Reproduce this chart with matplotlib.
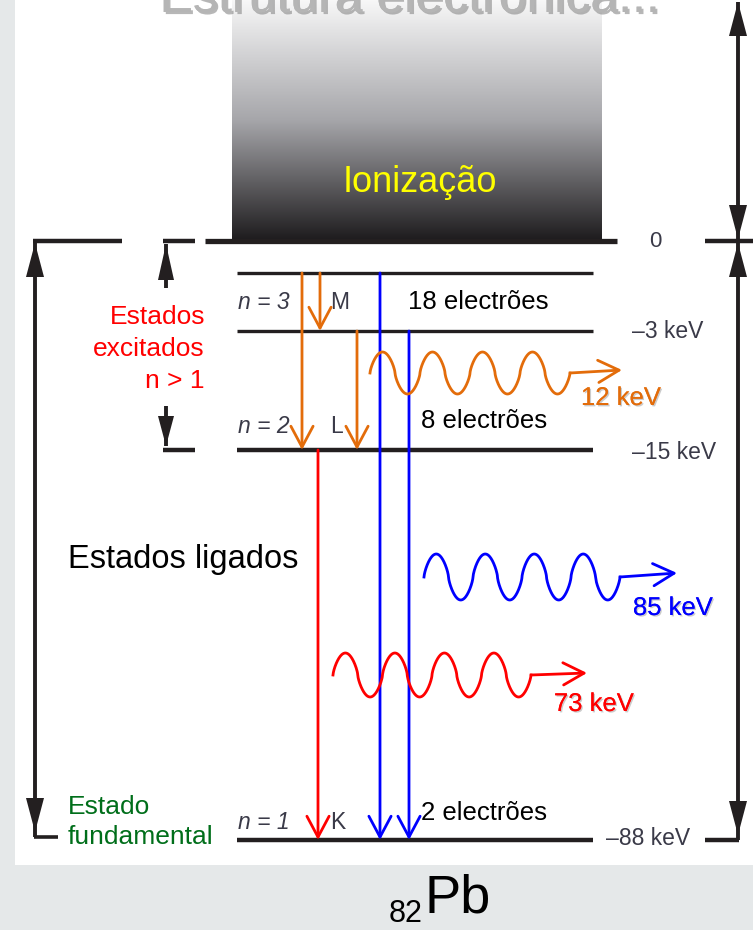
import numpy as np
import matplotlib
matplotlib.use("Agg")
import matplotlib.pyplot as plt
from matplotlib.colors import LinearSegmentedColormap
from matplotlib.patches import Rectangle
import matplotlib.patheffects as pe

plt.rcParams['font.family'] = ['Liberation Sans', 'DejaVu Sans']

# energy levels of lead (keV) and shells
level_energy = [0, -3, -15, -88]
level_label = ["0", "–3 keV", "–15 keV", "–88 keV"]
shell_n = ["n = 3", "n = 2", "n = 1"]
shell_letter = ["M", "L", "K"]
shell_electrons = ["18 electrões", "8 electrões", "2 electrões"]
# emitted photons (keV)
photon_energy = [12, 85, 73]
photon_color = ["#e36c0a", "#0000ff", "#ff0000"]

# layout (pixels, y going down)
level_y = {0: 241, -3: 331, -15: 450, -88: 840}
n3_top = 273

fig = plt.figure(figsize=(7.53, 9.30), dpi=100)
fig.patch.set_facecolor("#e5e8e9")
ax = fig.add_axes([0, 0, 1, 1])
ax.set_xlim(0, 753)
ax.set_ylim(930, 0)
ax.axis("off")

ax.add_patch(Rectangle((15, 0), 740, 865, facecolor="white", edgecolor="none", zorder=0))

# ionisation gradient
cmap = LinearSegmentedColormap.from_list("ion", ["#f8f8f8", "#a6a6aa", "#1d1b1d"])
grad = np.linspace(0, 1, 256).reshape(-1, 1)
ax.imshow(grad, extent=[232, 602, 241, 0], cmap=cmap, aspect="auto", zorder=1)
ax.text(420, 183, "Ionização", color="#ffff00", fontsize=26, ha="center", va="center", zorder=3)

ax.text(410, 12, "Estrutura electrónica...", color="#b5b5b5", fontsize=36, ha="center",
        va="baseline", zorder=3,
        path_effects=[pe.withSimplePatchShadow(offset=(1.5, -1.5), shadow_rgbFace="#888888", alpha=0.6), pe.Normal()])

black = "#231f20"


def hline(x0, x1, y, lw):
    ax.plot([x0, x1], [y, y], color=black, lw=lw, solid_capstyle="butt", zorder=4)


# level lines
hline(205, 617, 241, 3.8)
hline(237, 593, n3_top, 2.4)
hline(237, 593, level_y[-3], 2.4)
hline(237, 593, level_y[-15], 3.2)
hline(237, 593, level_y[-88], 3.2)

# bracket ends
hline(33, 122, 241, 3.2)
hline(163, 195, 241, 3.2)
hline(163, 195, 450, 3.2)
hline(34, 58, 837, 2.6)
hline(705, 753, 241, 3.2)
hline(705, 739, 840, 3.2)


def head(x, tip, direction, hl=34, hw=9):
    # direction +1 points down, -1 points up
    base = tip - direction * hl
    ax.fill([x, x - hw, x + hw], [tip, base, base], color=black, lw=0, zorder=4)


def vline(x, y0, y1):
    ax.plot([x, x], [y0, y1], color=black, lw=2.8, solid_capstyle="butt", zorder=4)


vline(35, 243, 837)
head(35, 243, -1)
head(35, 832, 1)
vline(738, 2, 241)
head(738, 2, -1)
head(738, 239, 1)
vline(738, 241, 840)
head(738, 243, -1)
head(738, 835, 1)
vline(166, 244, 288)
head(166, 244, -1, 36, 8)
vline(166, 406, 446)
head(166, 446, 1, 30, 8)

# right-hand energy labels
lab_color = "#3a3a48"
ax.text(655, 241, level_label[0], color=lab_color, fontsize=16, ha="center", va="center")
ax.text(632, 331, level_label[1], color=lab_color, fontsize=16.5, ha="left", va="center")
ax.text(632, 452, level_label[2], color=lab_color, fontsize=16.5, ha="left", va="center")
ax.text(606, 838, level_label[3], color=lab_color, fontsize=16.5, ha="left", va="center")

# shell labels
shell_y = [302, 426, 822]
for i in range(3):
    ax.text(238, shell_y[i], shell_n[i], color=lab_color, fontsize=16.5, ha="left", va="center", style="italic")
    ax.text(330, shell_y[i], shell_letter[i], color=lab_color, fontsize=16.5, ha="left", va="center")
ax.text(408, 302, shell_electrons[0], fontsize=18.5, ha="left", va="center")
ax.text(421, 421, shell_electrons[1], fontsize=18.5, ha="left", va="center")
ax.text(421, 813, shell_electrons[2], fontsize=18.5, ha="left", va="center")

ax.text(205, 349, "Estados\nexcitados\nn > 1", color="#ff0000", fontsize=19, ha="right",
        va="center", linespacing=1.4)
ax.text(68, 822, "Estado\nfundamental", color="#006e1a", fontsize=19, ha="left",
        va="center", linespacing=1.35)
ax.text(68, 559, "Estados ligados", fontsize=23.5, ha="left", va="center")


def transition(x, y0, y1, color):
    ax.annotate("", xy=(x, y1), xytext=(x, y0),
                arrowprops=dict(arrowstyle="->,head_length=0.75,head_width=0.4",
                                mutation_scale=20, lw=2, color=color,
                                shrinkA=0, shrinkB=0), zorder=5)


orange, red, blue = photon_color[0], photon_color[2], photon_color[1]
transition(302, n3_top, level_y[-15], orange)
transition(320, n3_top, level_y[-3], orange)
transition(357, level_y[-3], level_y[-15], orange)
transition(318, level_y[-15], level_y[-88], red)
transition(380, n3_top, level_y[-88], blue)
transition(409, level_y[-3], level_y[-88], blue)

# photons
waves = [(370, 373, 21, 50, 622, 370), (424, 577, 23, 49, 677, 573), (333, 675, 22, 49.5, 587, 673)]
label_pos = [(621, 398), (673, 608), (594, 704)]
for k, (x0, yc, amp, per, xe, ye) in enumerate(waves):
    xw = np.linspace(x0, x0 + 4 * per, 600)
    s = np.sin(2 * np.pi * (xw - x0) / per)
    yw = yc - amp * np.sign(s) * np.abs(s) ** 0.7
    ax.plot(xw, yw, color=photon_color[k], lw=2, zorder=6)
    ax.annotate("", xy=(xe, ye), xytext=(xw[-1], yc),
                arrowprops=dict(arrowstyle="->,head_length=0.75,head_width=0.4",
                                mutation_scale=20, lw=2, color=photon_color[k],
                                shrinkA=0, shrinkB=0), zorder=6)
    ax.text(label_pos[k][0], label_pos[k][1], "%d keV" % photon_energy[k], color=photon_color[k],
            fontsize=18.5, ha="center", va="center", zorder=6,
            path_effects=[pe.withSimplePatchShadow(offset=(1, -1), shadow_rgbFace="#999999", alpha=0.5), pe.Normal()])

# element symbol
ax.text(425, 898, "Pb", fontsize=39, ha="left", va="center")
ax.text(423, 914, "82", fontsize=22, ha="right", va="center")

fig.savefig("out.png", dpi=100)
